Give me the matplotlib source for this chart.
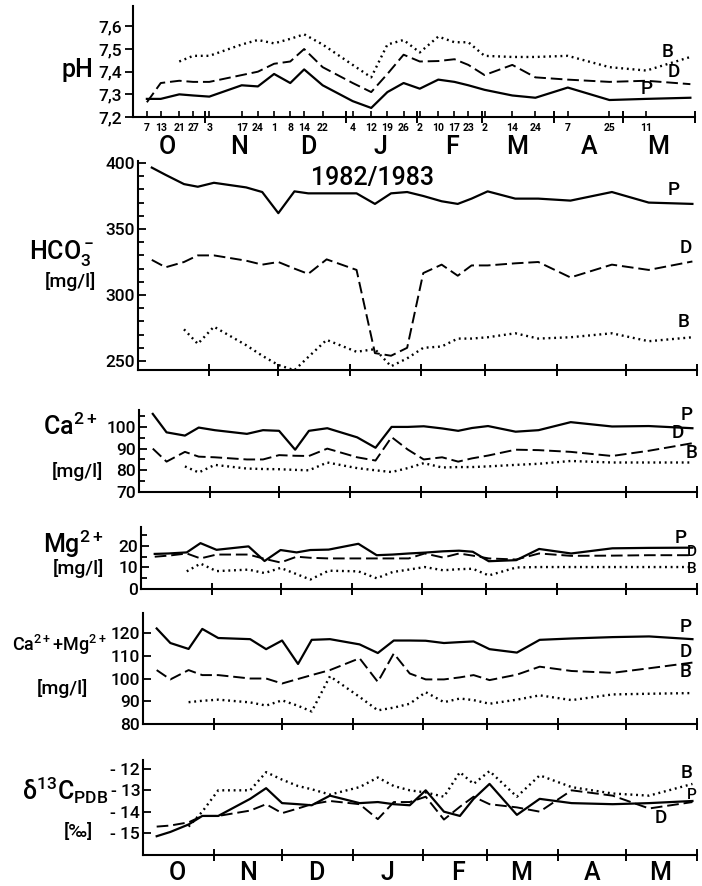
import pandas as pd
import numpy as np
import matplotlib
matplotlib.use("Agg")
import matplotlib.pyplot as plt
from matplotlib.ticker import FixedLocator, MultipleLocator, NullFormatter

plt.rcParams['font.family'] = ['Roboto', 'DejaVu Sans']
plt.rcParams['font.weight'] = 'medium'
plt.rcParams['mathtext.fontset'] = 'custom'
plt.rcParams['mathtext.rm'] = 'Roboto:medium'
plt.rcParams['mathtext.it'] = 'Roboto:italic'
plt.rcParams['mathtext.default'] = 'regular'

# sampling dates 1982/1983
dates = ["1982-10-07", "1982-10-13", "1982-10-21", "1982-10-27", "1982-11-03",
         "1982-11-17", "1982-11-24", "1982-12-01", "1982-12-08", "1982-12-14",
         "1982-12-22", "1983-01-04", "1983-01-12", "1983-01-19", "1983-01-26",
         "1983-02-02", "1983-02-10", "1983-02-17", "1983-02-23", "1983-03-02",
         "1983-03-14", "1983-03-24", "1983-04-07", "1983-04-25", "1983-05-11",
         "1983-05-30"]
months = ["O", "N", "D", "J", "F", "M", "A", "M"]
nan = np.nan

ph_P = [7.28, 7.28, 7.30, 7.295, 7.29, 7.34, 7.335, 7.39, 7.35, 7.41, 7.34, 7.27, 7.24,
        7.31, 7.35, 7.325, 7.365, 7.355, 7.34, 7.32, 7.295, 7.285, 7.33, 7.275, 7.28, 7.285]
ph_D = [7.265, 7.35, 7.36, 7.355, 7.355, 7.385, 7.40, 7.435, 7.445, 7.50, 7.42, 7.35, 7.31,
        7.39, 7.475, 7.445, 7.447, 7.455, 7.43, 7.385, 7.43, 7.375, 7.365, 7.355, 7.36, 7.345]
ph_B = [nan, nan, 7.445, 7.47, 7.47, 7.52, 7.54, 7.525, 7.545, 7.565, 7.52, 7.43, 7.375,
        7.52, 7.54, 7.485, 7.555, 7.53, 7.53, 7.47, 7.465, 7.465, 7.47, 7.42, 7.405, 7.465]

hco3_P = [396.5, 391, 384, 382, 385, 381.5, 378, 362, 378.5, 377, 377, 377, 369,
          377, 378, 375, 371, 369, 373, 378.5, 373, 373, 371.5, 378, 370, 369]
hco3_D = [326.6, 321, 325, 330, 330, 326, 323, 325, 320, 316, 327, 319, 256,
          254, 260, 316.6, 323, 314.6, 322.4, 322.4, 324, 325, 313.3, 323, 319, 325.4]
hco3_B = [nan, nan, 274, 263, 276, 262, 254, 247, 243, 253, 266, 257, 259,
          246, 252, 260, 261, 267, 267, 268, 271, 267, 268, 271, 265, 268]

ca_P = [106, 97.5, 96, 99.7, 98.5, 96.8, 98.5, 98.2, 89.5, 98.2, 99.4, 95.2, 90.4,
        100, 100, 100.3, 99.3, 98.2, 99.5, 100.4, 97.8, 98.5, 102.2, 100.2, 100.4, 99.4]
ca_D = [90, 84, 88.5, 86.3, 86, 85, 85, 87, 86.7, 86.6, 90, 86, 84.5,
        95.3, 89.6, 85, 86, 84, 85.5, 86.8, 89.5, 89.3, 88.5, 86.6, 89, 92.5]
ca_B = [nan, nan, 81.8, 79, 82.5, 80.8, 80.6, 80.5, 80.2, 80, 83.6, 81, 80,
        79.2, 81, 83.3, 81.3, 81.5, 81.5, 81.8, 82.5, 83, 84.3, 83.6, 83.6, 83.6]

mg_P = [16.3, 16.5, 17, 21.3, 18.2, 19.8, 13, 18.1, 17, 18.1, 18.3, 21, 15.7,
        16, 16.5, 16.9, 17.5, 17.8, 17.3, 12.9, 13.4, 18.6, 16.5, 18.9, 19.1, 19.2]
mg_D = [15, 15.5, 16.5, 14.2, 16, 16, 14, 12.3, 15, 14.5, 14.2, 14.2, 14.2,
        14.2, 14.2, 16.5, 14.6, 16.5, 15.5, 14.2, 13.7, 16.5, 15.4, 15.5, 15.7, 15.7]
mg_B = [nan, nan, 8.2, 11.8, 8.3, 9, 7.4, 9.8, 6.9, 4.4, 8.5, 8.2, 5,
        7.9, 9, 10.2, 8.7, 9.2, 9.4, 6.3, 10, 10.2, 10.2, 10.2, 10.2, 10.2]

camg_P = [122, 115.6, 113, 121.8, 117.8, 117.3, 112.9, 116.7, 106.4, 117, 117.3, 115, 111.2,
          116.7, 116.7, 116.6, 115.6, 116, 116.3, 112.9, 111.4, 117, 117.6, 118.2, 118.5, 117.3]
camg_D = [103.7, 99.6, 103.7, 101.5, 101.5, 100, 100, 97.8, 99.8, 101.5, 103.7, 108.9, 98.5,
          111, 102.2, 99.6, 99.6, 100.5, 101.5, 99.3, 101.7, 105.2, 103.3, 102.5, 104.5, 107]
camg_B = [nan, nan, 89.6, 90.2, 90.7, 89.5, 88.1, 90.4, 88, 85.5, 101, 91.9, 86,
          87.2, 88.9, 94, 89.6, 91.2, 90.5, 88.9, 90.7, 92.6, 90.5, 93, 93.3, 93.6]

d13c_P = [-15.15, -14.95, -14.6, -14.2, -14.2, -13.4, -12.9, -13.6, -13.65, -13.7, -13.25, -13.6, -13.55,
          -13.65, -13.7, -13.0, -14.0, -14.2, -13.4, -12.7, -14.15, -13.4, -13.6, -13.65, -13.6, -13.5]
d13c_D = [-14.7, -14.65, -14.5, -14.2, -14.2, -13.95, -13.65, -14.07, -13.85, -13.65, -13.5, -13.65, -14.35,
          -13.55, -13.55, -13.3, -14.37, -13.77, -13.3, -13.65, -13.8, -14.0, -13.0, -13.25, -13.85, -13.55]
d13c_B = [nan, nan, -14.7, -14.0, -13.0, -13.0, -12.15, -12.5, -12.8, -12.95, -13.2, -12.85, -12.4,
          -12.8, -13.0, -13.1, -13.3, -12.15, -12.7, -12.1, -13.3, -12.3, -12.85, -13.15, -13.25, -12.7]

start = pd.Timestamp("1982-10-01")
day = (pd.to_datetime(dates) - start).days.values
edges = (pd.date_range("1982-10-01", "1983-06-01", freq="MS") - start).days.values
mids = edges[:-1] + 15
daynum = [str(d.day) for d in pd.to_datetime(dates)][:-1]

W, H = 702, 886
fig = plt.figure(figsize=(W / 100, H / 100), dpi=100)


def rect(l, r, t, b):
    return [l / W, 1 - b / H, (r - l) / W, (b - t) / H]


def panel(box, ylim, P, D, B, tickdir='in'):
    ax = fig.add_axes(box)
    ax.plot(day, P, color='k', lw=1.6, ls='-')
    ax.plot(day, D, color='k', lw=1.4, ls=(0, (6, 2.5)))
    ax.plot(day, B, color='k', lw=1.7, ls=(0, (0.8, 1.6)))
    ax.set_xlim(0, 243)
    ax.set_ylim(*ylim)
    for s in ['top', 'right']:
        ax.spines[s].set_visible(False)
    for s in ['left', 'bottom']:
        ax.spines[s].set_linewidth(1.5)
    ax.xaxis.set_major_locator(FixedLocator(edges[1:]))
    ax.xaxis.set_major_formatter(NullFormatter())
    ax.tick_params(axis='x', which='major', direction='inout', length=9, width=1.4)
    ax.tick_params(axis='y', which='both', direction=tickdir, width=1.3, labelsize=12.5, pad=2)
    ax.tick_params(axis='y', which='major', length=6)
    ax.tick_params(axis='y', which='minor', length=4)
    return ax


def tag(ax, x, y, s, size=13.5):
    ax.text(x, y, s, fontsize=size, ha='center', va='center', clip_on=False)


# pH
ax = panel(rect(133, 695, 6, 117), (7.2, 7.69), ph_P, ph_D, ph_B, tickdir='out')
ax.set_yticks([7.2, 7.3, 7.4, 7.5, 7.6])
ax.set_yticklabels(['7,2', '7,3', '7,4', '7,5', '7,6'])
ax.xaxis.set_major_locator(FixedLocator(day[:-1]))
ax.xaxis.set_major_formatter(plt.FixedFormatter(daynum))
ax.xaxis.set_minor_locator(FixedLocator(edges[1:]))
ax.tick_params(axis='x', which='major', direction='in', length=4, width=1.2,
               labelsize=7.5, pad=4)
ax.tick_params(axis='x', which='minor', direction='inout', length=9, width=1.4)
for lab in ax.get_xticklabels():
    lab.set_fontweight('bold')
for m, s in zip(mids, months):
    ax.text(m, -0.27, s, fontsize=18, ha='center', va='center',
            transform=ax.get_xaxis_transform())
tag(ax, 231, 7.488, 'B')
tag(ax, 234, 7.40, 'D')
tag(ax, 222, 7.322, 'P')
fig.text(93 / W, 1 - 70 / H, 'pH', fontsize=18, ha='right', va='center')

# HCO3
ax = panel(rect(138, 697, 161, 370), (243.2, 401.5), hco3_P, hco3_D, hco3_B)
ax.yaxis.set_major_locator(FixedLocator([250, 300, 350, 400]))
ax.yaxis.set_minor_locator(MultipleLocator(10))
ax.text(102, 389, '1982/1983', fontsize=18, ha='center', va='center')
tag(ax, 233, 379.5, 'P')
tag(ax, 238, 335.5, 'D')
tag(ax, 237, 279.5, 'B')
fig.text(94 / W, 1 - 253 / H, 'HCO$_3^-$', fontsize=18, ha='right', va='center')
fig.text(96 / W, 1 - 282 / H, '[mg/l]', fontsize=14, ha='right', va='center')

# Ca
ax = panel(rect(139, 697, 410, 492), (70, 107.8), ca_P, ca_D, ca_B)
ax.yaxis.set_major_locator(FixedLocator([70, 80, 90, 100]))
ax.yaxis.set_minor_locator(MultipleLocator(5))
tag(ax, 238.5, 105.5, 'P')
tag(ax, 234.5, 97.0, 'D')
tag(ax, 240.5, 88.0, 'B')
fig.text(97 / W, 1 - 426 / H, 'Ca$^{2+}$', fontsize=18, ha='right', va='center')
fig.text(103 / W, 1 - 472 / H, '[mg/l]', fontsize=14, ha='right', va='center')

# Mg
ax = panel(rect(141, 697, 527, 589), (0, 28.8), mg_P, mg_D, mg_B)
ax.yaxis.set_major_locator(FixedLocator([0, 10, 20]))
ax.yaxis.set_minor_locator(MultipleLocator(5))
tag(ax, 236, 23.7, 'P')
tag(ax, 240.8, 17.2, 'D', size=11)
tag(ax, 240.8, 9.5, 'B', size=11)
fig.text(103 / W, 1 - 544 / H, 'Mg$^{2+}$', fontsize=18, ha='right', va='center')
fig.text(104 / W, 1 - 569 / H, '[mg/l]', fontsize=14, ha='right', va='center')

# Ca + Mg
ax = panel(rect(143, 697, 613, 724), (80, 128.8), camg_P, camg_D, camg_B)
ax.yaxis.set_major_locator(FixedLocator([80, 90, 100, 110, 120]))
tag(ax, 238, 122.6, 'P')
tag(ax, 238, 111.6, 'D')
tag(ax, 238, 103.0, 'B')
fig.text(107 / W, 1 - 645 / H, 'Ca$^{2+}$+Mg$^{2+}$', fontsize=13, ha='right', va='center')
fig.text(88 / W, 1 - 688 / H, '[mg/l]', fontsize=14, ha='right', va='center')

# delta 13C
ax = panel(rect(143, 697, 760, 855), (-16.03, -11.58), d13c_P, d13c_D, d13c_B)
ax.yaxis.set_major_locator(FixedLocator([-15, -14, -13, -12]))
ax.yaxis.set_major_formatter(plt.FixedFormatter(['- 15', '- 14', '- 13', '- 12']))
for m, s in zip(mids, months):
    ax.text(m, -0.19, s, fontsize=18, ha='center', va='center',
            transform=ax.get_xaxis_transform())
tag(ax, 238.5, -12.2, 'B')
tag(ax, 240.8, -13.2, 'P', size=11)
tag(ax, 227, -14.3, 'D')
fig.text(108 / W, 1 - 790 / H, r'$\delta^{13}$C$_{PDB}$', fontsize=18, ha='right', va='center')
fig.text(93 / W, 1 - 832 / H, '[\u2030]', fontsize=14, ha='right', va='center')

fig.savefig('out.png', dpi=100)
